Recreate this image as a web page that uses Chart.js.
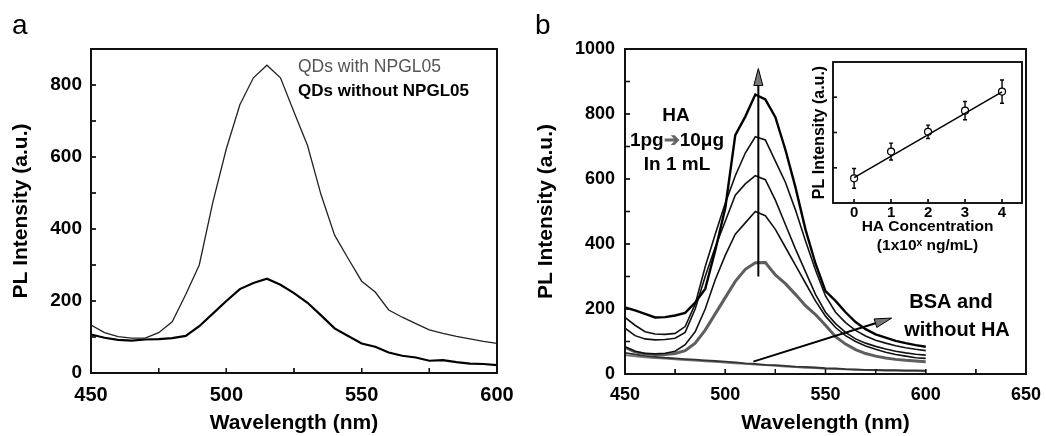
<!DOCTYPE html>
<html>
<head>
<meta charset="utf-8">
<script src="https://cdn.jsdelivr.net/npm/chart.js@4.4.1/dist/chart.umd.min.js"></script>
<style>
  body { margin: 0; background: #fff; width: 1046px; height: 436px; position: relative; overflow: hidden;
         font-family: "Liberation Sans", Arial, sans-serif; }
  canvas { position: absolute; }
  .panel { position: absolute; font-size: 28px; line-height: 28px; color: #000; }
  .frame { position: absolute; box-sizing: border-box; border: 2px solid #111; pointer-events: none; }
</style>
</head>
<body>
<canvas id="chartA" width="520" height="436" style="left:0;top:0"></canvas>
<canvas id="chartB" width="526" height="436" style="left:520px;top:0"></canvas>
<canvas id="chartInset" width="235" height="215" style="left:795px;top:50px"></canvas>
<span class="panel" style="left:12px;top:11px">a</span>
<span class="panel" style="left:535px;top:11px">b</span>
<script>
// panel a
const aWavelength = [450,455,460,465,470,475,480,485,490,495,500,505,510,515,520,525,530,535,540,545,550,555,560,565,570,575,580,585,590,595,600];
const aWithNPGL = [133,112,101,97,97,112,142,218,300,474,623,745,820,855,820,725,632,495,383,318,255,225,175,155,137,120,110,102,95,88,82];
const aWithoutNPGL = [107,98,92,90,93,94,97,103,130,165,200,233,250,262,245,222,195,160,124,103,82,73,57,48,43,34,36,30,26,25,22];

// panel b
const bWavelength = aWavelength;
const bHA4 = [205,196,185,174,175,180,188,220,262,380,510,735,792,860,845,790,690,575,445,340,255,225,190,160,138,122,112,102,95,89,84];
const bHA3 = [174,150,130,123,122,125,146,215,330,430,525,610,680,730,720,655,590,505,410,320,240,190,158,134,117,104,95,87,81,76,72];
const bHA2 = [141,118,108,105,106,110,128,200,300,390,470,550,585,610,598,535,460,385,315,245,190,155,128,108,95,85,77,70,65,61,58];
const bHA1 = [84,70,63,62,64,70,90,130,200,290,365,430,465,500,487,445,390,335,280,225,178,143,118,100,86,76,67,60,55,50,48];
const bHA0 = [82,68,62,60,60,63,72,95,135,185,235,285,322,342,343,305,278,245,210,183,150,115,92,75,63,55,49,45,42,40,38];
const bBSA = [65,60,56,53,50,48,46,44,42,40,38,36,33,31,28,27,25,23,22,20,18,17,15,14,13,13,12,12,11,11,10];
const bNoHA = [58,54,51,49,47,45,43,41,39,37,35,33,31,29,27,25,23,21,19,18,16,15,14,13,12,11,10,10,9,9,8];

// inset
const insetConc = [0,1,2,3,4];
const insetPeak = [0.70,1.46,2.02,2.62,3.16];
const insetErr = [0.28,0.24,0.19,0.26,0.33];
const fitConc = [0,4];
const fitPeak = [0.72,3.15];

// arrows in panel b (data coordinates)
const riseArrow = {from: [516.5, 300], to: [516.5, 940]};
const bsaArrow = {from: [514, 38], to: [583, 172]};

const FONT = '"Liberation Sans", Arial, sans-serif';
const pts = (xs, ys) => xs.map((x, i) => ({x: x, y: ys[i]}));

function drawBox(chart, tickLen) {
  const a = chart.chartArea, ctx = chart.ctx;
  const x = chart.scales.x, y = chart.scales.y;
  ctx.save();
  ctx.strokeStyle = '#111';
  ctx.lineWidth = 1.6;
  ctx.strokeRect(a.left, a.top, a.right - a.left, a.bottom - a.top);
  ctx.lineWidth = 1.3;
  x.ticks.forEach(t => {
    const p = x.getPixelForValue(t.value);
    ctx.beginPath(); ctx.moveTo(p, a.bottom); ctx.lineTo(p, a.bottom - tickLen); ctx.stroke();
  });
  y.ticks.forEach(t => {
    const p = y.getPixelForValue(t.value);
    ctx.beginPath(); ctx.moveTo(a.left, p); ctx.lineTo(a.left + tickLen, p); ctx.stroke();
  });
  ctx.restore();
}

// frame and inward ticks, plus any extra drawing, one fresh plugin per chart
function boxPlugin(name, tickLen, extra) {
  return {
    id: 'box' + name,
    afterDatasetsDraw(chart) { drawBox(chart, tickLen); },
    afterDraw(chart) {
      drawBox(chart, tickLen);
      if (extra) { chart.ctx.save(); extra(chart); chart.ctx.restore(); }
    }
  };
}

// box outline laid over the chart area that the library computed
function frameDiv(chart) {
  const a = chart.chartArea, c = chart.canvas;
  const d = document.createElement('div');
  d.className = 'frame';
  d.style.left = (c.offsetLeft + a.left - 1) + 'px';
  d.style.top = (c.offsetTop + a.top - 1) + 'px';
  d.style.width = (a.right - a.left + 2) + 'px';
  d.style.height = (a.bottom - a.top + 2) + 'px';
  document.body.appendChild(d);
}

function xAxis(min, max, every, size, height) {
  return {
    type: 'linear', min: min, max: max,
    ticks: {stepSize: 25, autoSkip: false, maxRotation: 0, padding: 10, color: '#000',
            font: {family: FONT, size: size, weight: 'bold'},
            callback: v => (v % every === 0 ? String(v) : '')},
    grid: {display: false, drawTicks: false},
    border: {display: false},
    title: {display: true, text: 'Wavelength (nm)', color: '#000',
            font: {family: FONT, size: 21, weight: 'bold'}, padding: {top: 0, bottom: 0}},
    afterFit(s) { s.height = height; s.paddingLeft = 0; s.paddingRight = 0; }
  };
}

function yAxis(max, size, pad, titlePad, width) {
  return {
    min: 0, max: max,
    ticks: {stepSize: 100, autoSkip: false, padding: pad, color: '#000',
            font: {family: FONT, size: size, weight: 'bold'},
            callback: v => (v % 200 === 0 ? String(v) : '')},
    grid: {display: false, drawTicks: false},
    border: {display: false},
    title: {display: true, text: 'PL Intensity (a.u.)', color: '#000',
            font: {family: FONT, size: 21, weight: 'bold'}, padding: {top: titlePad, bottom: 0}},
    afterFit(s) { s.width = width; s.paddingTop = 0; s.paddingBottom = 0; }
  };
}

function legendA(chart) {
  const ctx = chart.ctx;
  ctx.textBaseline = 'middle';
  ctx.textAlign = 'left';
  ctx.fillStyle = '#555';
  ctx.font = '17.5px ' + FONT;
  ctx.fillText('QDs with NPGL05', 298, 67);
  ctx.fillStyle = '#000';
  ctx.font = 'bold 17px ' + FONT;
  ctx.fillText('QDs without NPGL05', 298, 91);
}

const chartA = new Chart(document.getElementById('chartA'), {
  type: 'line',
  data: {
    datasets: [
      {data: pts(aWavelength, aWithNPGL), borderColor: '#222', borderWidth: 1.3},
      {data: pts(aWavelength, aWithoutNPGL), borderColor: '#000', borderWidth: 2.2}
    ]
  },
  options: {
    responsive: false, animation: false,
    layout: {autoPadding: false, padding: {left: 0, top: 49, right: 23, bottom: 0}},
    plugins: {legend: {display: false}, tooltip: {enabled: false}},
    elements: {point: {radius: 0}, line: {tension: 0}},
    scales: {
      x: xAxis(450, 600, 50, 20, 63),
      y: yAxis(900, 19, 9, 9, 91)
    }
  },
  plugins: [boxPlugin('A', 5, legendA)]
});

function drawArrow(ctx, x0, y0, x1, y1) {
  const ang = Math.atan2(y1 - y0, x1 - x0);
  const hl = 17, hw = 4.5;
  const bx = x1 - hl * Math.cos(ang), by = y1 - hl * Math.sin(ang);
  ctx.beginPath();
  ctx.moveTo(x0, y0);
  ctx.lineTo(bx, by);
  ctx.strokeStyle = '#000';
  ctx.lineWidth = 2;
  ctx.stroke();
  ctx.beginPath();
  ctx.moveTo(x1, y1);
  ctx.lineTo(bx - hw * Math.sin(ang), by + hw * Math.cos(ang));
  ctx.lineTo(bx + hw * Math.sin(ang), by - hw * Math.cos(ang));
  ctx.closePath();
  ctx.fillStyle = '#777';
  ctx.fill();
  ctx.lineWidth = 1;
  ctx.stroke();
}

function notesB(chart) {
  const ctx = chart.ctx, x = chart.scales.x, y = chart.scales.y;
  [riseArrow, bsaArrow].forEach(a => drawArrow(ctx,
    x.getPixelForValue(a.from[0]), y.getPixelForValue(a.from[1]),
    x.getPixelForValue(a.to[0]), y.getPixelForValue(a.to[1])));
  ctx.fillStyle = '#000';
  ctx.textAlign = 'center';
  ctx.textBaseline = 'middle';
  ctx.font = 'bold 19px ' + FONT;
  ctx.fillText('HA', 156, 116);
  ctx.fillText('In 1 mL', 157, 165);
  // "1pg ➔ 10μg" with a grey arrow in the middle
  const p1 = '1pg', p2 = '\u2794', p3 = '10\u03bcg';
  const w1 = ctx.measureText(p1).width, w2 = ctx.measureText(p2).width, w3 = ctx.measureText(p3).width;
  const sx = 157 - (w1 + w2 + w3) / 2;
  ctx.textAlign = 'left';
  ctx.fillText(p1, sx, 141);
  ctx.fillStyle = '#666';
  ctx.fillText(p2, sx + w1, 141);
  ctx.fillStyle = '#000';
  ctx.fillText(p3, sx + w1 + w2, 141);
  ctx.textAlign = 'center';
  ctx.font = 'bold 20px ' + FONT;
  ctx.fillText('BSA and', 431, 302);
  ctx.fillText('without HA', 437, 330);
}

const chartB = new Chart(document.getElementById('chartB'), {
  type: 'line',
  data: {
    datasets: [
      {data: pts(bWavelength, bHA4), borderColor: '#000', borderWidth: 2.4},
      {data: pts(bWavelength, bHA3), borderColor: '#111', borderWidth: 1.6},
      {data: pts(bWavelength, bHA2), borderColor: '#111', borderWidth: 1.6},
      {data: pts(bWavelength, bHA1), borderColor: '#111', borderWidth: 1.6},
      {data: pts(bWavelength, bHA0), borderColor: '#5e5e5e', borderWidth: 3},
      {data: pts(bWavelength, bBSA), borderColor: '#333', borderWidth: 1.8},
      {data: pts(bWavelength, bNoHA), borderColor: '#777', borderWidth: 1.8}
    ]
  },
  options: {
    responsive: false, animation: false,
    layout: {autoPadding: false, padding: {left: 0, top: 49, right: 20, bottom: 0}},
    plugins: {legend: {display: false}, tooltip: {enabled: false}},
    elements: {point: {radius: 0}, line: {tension: 0}},
    scales: {
      x: xAxis(450, 650, 50, 18, 62),
      y: yAxis(1000, 18, 10, 14, 105)
    }
  },
  plugins: [boxPlugin('B', 5, notesB)]
});

const errorBars = {
  id: 'errorBars',
  beforeDatasetsDraw(chart) {
    const {ctx} = chart, x = chart.scales.x, y = chart.scales.y;
    ctx.save();
    ctx.strokeStyle = '#000';
    ctx.lineWidth = 1.4;
    insetConc.forEach((c, i) => {
      const px = x.getPixelForValue(c);
      const top = y.getPixelForValue(insetPeak[i] + insetErr[i]);
      const bot = y.getPixelForValue(insetPeak[i] - insetErr[i]);
      ctx.beginPath();
      ctx.moveTo(px, top); ctx.lineTo(px, bot);
      ctx.moveTo(px - 2, top); ctx.lineTo(px + 2, top);
      ctx.moveTo(px - 2, bot); ctx.lineTo(px + 2, bot);
      ctx.stroke();
    });
    ctx.restore();
  }
};

new Chart(document.getElementById('chartInset'), {
  type: 'line',
  data: {
    datasets: [
      {data: pts(fitConc, fitPeak), borderColor: '#000', borderWidth: 1.5, pointRadius: 0},
      {data: pts(insetConc, insetPeak), showLine: false, pointRadius: 3.5,
       pointBackgroundColor: '#fff', pointBorderColor: '#000', pointBorderWidth: 1.2}
    ]
  },
  options: {
    responsive: false, animation: false,
    layout: {autoPadding: false, padding: {left: 0, top: 12, right: 8, bottom: 0}},
    plugins: {legend: {display: false}, tooltip: {enabled: false}},
    elements: {line: {tension: 0}},
    scales: {
      x: {
        type: 'linear', min: -0.57, max: 4.54,
        afterBuildTicks(s) { s.ticks = insetConc.map(v => ({value: v})); },
        ticks: {padding: 1, color: '#000', font: {family: FONT, size: 15, weight: 'bold'}, callback: v => String(v)},
        grid: {display: false, drawTicks: false},
        border: {display: false},
        title: {display: true, text: ['HA Concentration', '(1x10\u02e3 ng/mL)'], color: '#000',
                font: {family: FONT, size: 15.5, weight: 'bold', lineHeight: 1.2}, padding: {top: 0, bottom: 10}},
        afterFit(s) { s.height = 62; s.paddingLeft = 0; s.paddingRight = 0; }
      },
      y: {
        min: 0, max: 4,
        afterBuildTicks(s) { s.ticks = s.ticks.filter(t => t.value > 0 && t.value < 4); },
        ticks: {stepSize: 1, callback: () => ''},
        grid: {display: false, drawTicks: false},
        border: {display: false},
        title: {display: true, text: 'PL Intensity (a.u.)', color: '#000',
                font: {family: FONT, size: 16, weight: 'bold'}, padding: {top: 15, bottom: 0}},
        afterFit(s) { s.width = 38; s.paddingTop = 0; s.paddingBottom = 0; }
      }
    }
  },
  plugins: [boxPlugin('I', 4), errorBars]
});

frameDiv(chartA);
frameDiv(chartB);
</script>
</body>
</html>
